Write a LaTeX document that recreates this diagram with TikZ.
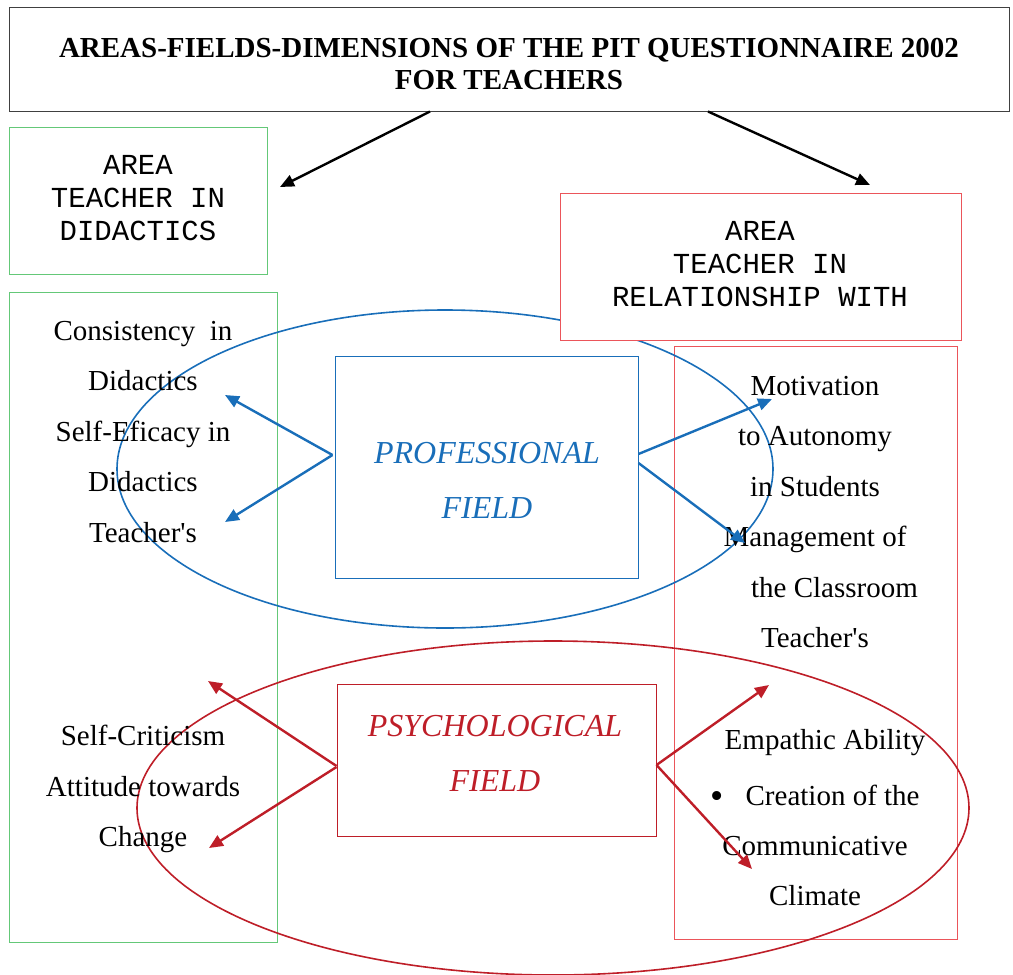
\documentclass[tikz,border=0pt]{standalone}
\usepackage{fontspec}
\setmainfont{Liberation Serif}
\setmonofont{Liberation Mono}
\usetikzlibrary{arrows.meta,shapes.geometric}
\definecolor{boxgreen}{RGB}{100,200,120}
\definecolor{boxred}{RGB}{235,85,90}
\definecolor{fieldblue}{RGB}{25,110,185}
\definecolor{fieldred}{RGB}{190,30,40}
\begin{document}
\begin{tikzpicture}[x=1pt,y=-1pt,
  rbox/.style={draw, rectangle, inner sep=0pt, line width=1pt},
  body/.style={font=\fontsize{29pt}{50.5pt}\selectfont, align=center, inner sep=0pt},
  monotext/.style={font=\ttfamily\fontsize{29pt}{33pt}\selectfont, align=center, inner sep=0pt},
  fieldtext/.style={font=\itshape\fontsize{32pt}{55pt}\selectfont, align=center, inner sep=0pt},
  oval/.style={draw, ellipse, inner sep=0pt, line width=1.6pt},
  arr/.style={line width=2.4pt, -{Triangle[length=14pt,width=12pt]}}
]
\useasboundingbox (0,0) rectangle (1013,975);

% boxes
\node[rbox, draw=black!75, minimum width=1000pt, minimum height=104pt] (title) at (509,59) {};
\node[rbox, draw=boxgreen, minimum width=258pt, minimum height=147pt] (didbox) at (138,200.5) {};
\node[rbox, draw=boxgreen, minimum width=268pt, minimum height=650pt] (leftbox) at (143,617) {};
\node[rbox, draw=boxred, minimum width=283pt, minimum height=593pt] (rightbox) at (815.5,642.5) {};

% ellipses
\node[oval, draw=fieldblue, minimum width=656pt, minimum height=318pt] (profoval) at (445,469) {};
\node[oval, draw=fieldred, minimum width=832pt, minimum height=334pt] (psyoval) at (553,808) {};

\node[rbox, draw=boxred, fill=white, minimum width=401pt, minimum height=147pt] (relbox) at (760.5,266.5) {};
\node[rbox, draw=fieldblue, minimum width=303pt, minimum height=222pt] (profbox) at (486.5,467) {};
\node[rbox, draw=fieldred, minimum width=319pt, minimum height=152pt] (psybox) at (496.5,760) {};

% texts
\node[font=\bfseries\fontsize{29pt}{32pt}\selectfont, align=center, inner sep=0pt] (titletext) at (509,64)
  {AREAS-FIELDS-DIMENSIONS OF THE PIT QUESTIONNAIRE 2002\\FOR TEACHERS};
\node[monotext] (didtext) at (138,198) {AREA\\TEACHER IN\\DIDACTICS};
\node[monotext] (reltext) at (760,264) {AREA\\TEACHER IN\\RELATIONSHIP WITH};
\node[fieldtext, text=fieldblue] (proftext) at (487,480.5) {PROFESSIONAL\\FIELD};
\node[fieldtext, text=fieldred] (psytext) at (495,753) {PSYCHOLOGICAL\\FIELD};

\node[body] (lefttop) at (143,432) {Consistency\ \ in\\Didactics\\Self-Eficacy in\\Didactics\\Teacher\textquotesingle s};
\node[body] (leftbot) at (143,789) {Self-Criticism\\Attitude towards\\Change};
\node[body] (righttop) at (815,512) {Motivation\\to Autonomy\\in Students\\Management of\\\hspace*{39pt}the Classroom\\Teacher\textquotesingle s};
\node[body, font=\fontsize{29pt}{50pt}\selectfont] (rightbot) at (815,818) {\hspace*{20pt}Empathic Ability\\[6pt]\raisebox{-3pt}{\scalebox{1.3}{\textbullet}}\hspace{22pt}Creation of the\\Communicative\\Climate};

% arrow end points
\coordinate (t1) at (280,187);
\coordinate (t2) at (870,185);
\coordinate (b1) at (225,395);
\coordinate (b2) at (225,522);
\coordinate (b3) at (772,399);
\coordinate (b4) at (745,543);
\coordinate (r1) at (208,681);
\coordinate (r2) at (209,848);
\coordinate (r3) at (769,685);
\coordinate (r4) at (752,869);

% connectors
\draw[arr, black] ([xshift=-79pt]title.south) -- (t1);
\draw[arr, black] ([xshift=199pt]title.south) -- (t2);
\draw[arr, fieldblue] ([yshift=12pt,xshift=-2pt]profbox.west) -- (b1);
\draw[arr, fieldblue] ([yshift=12pt,xshift=-2pt]profbox.west) -- (b2);
\draw[arr, fieldblue] ([yshift=13pt]profbox.east) -- (b3);
\draw[arr, fieldblue] ([yshift=4pt]profbox.east) -- (b4);
\draw[arr, fieldred] ([yshift=-6pt]psybox.west) -- (r1);
\draw[arr, fieldred] ([yshift=-7pt]psybox.west) -- (r2);
\draw[arr, fieldred] ([yshift=-5pt]psybox.east) -- (r3);
\draw[arr, fieldred] ([yshift=-5pt]psybox.east) -- (r4);
\end{tikzpicture}
\end{document}
